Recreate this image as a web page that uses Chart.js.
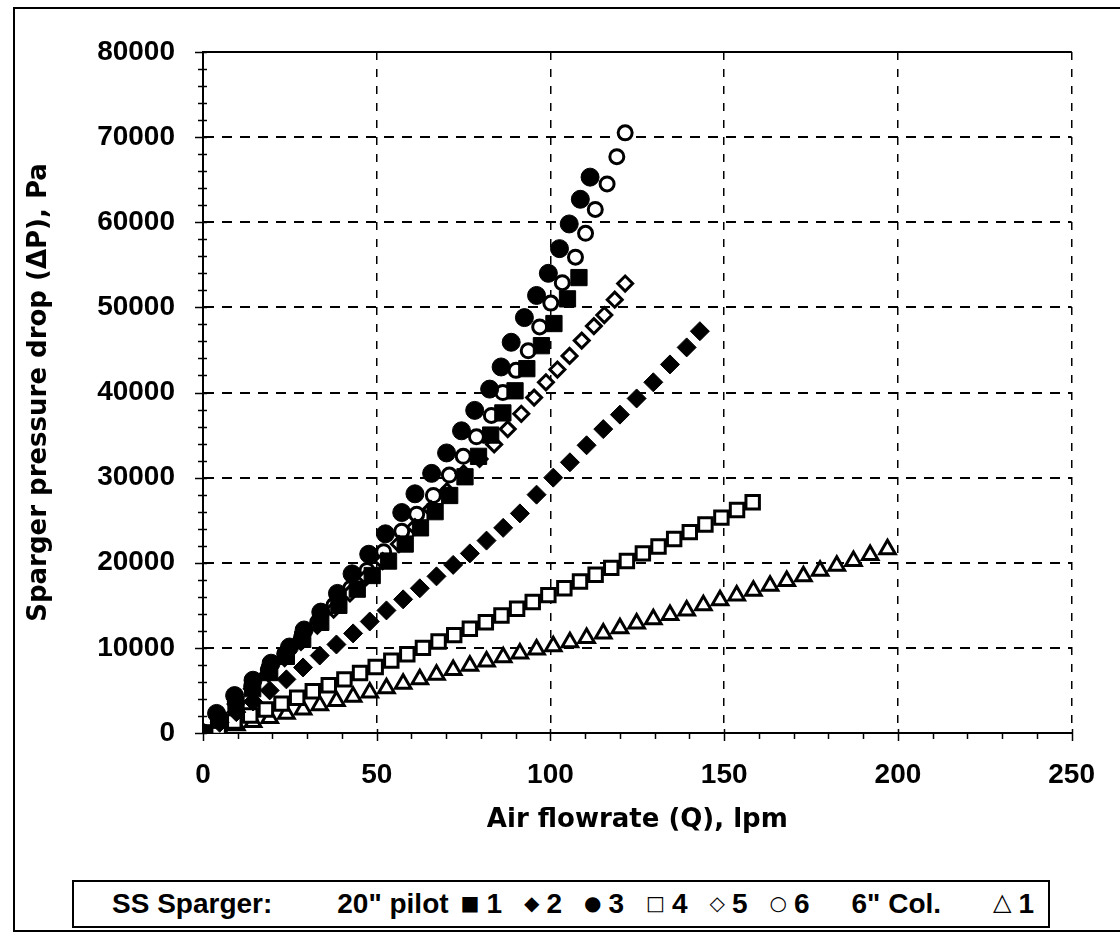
<!DOCTYPE html>
<html>
<head>
<meta charset="utf-8">
<script src="https://cdn.jsdelivr.net/npm/chart.js@4.4.1/dist/chart.umd.min.js"></script>
<style>
    body { margin: 0; background: #fff; }
    #wrap { position: relative; width: 1120px; height: 935px; overflow: hidden; }
    #frame { position: absolute; left: 13px; top: 7px; width: 1120px; height: 921px;
             border-left: 2px solid #000; border-top: 2px solid #000; border-bottom: 2px solid #000; }
    canvas { position: absolute; left: 0; top: 0; }
    #legend { position: absolute; left: 72px; top: 880px; width: 978px; height: 48px; box-sizing: border-box;
              border: 2px solid #000; background: #fff; display: flex; align-items: center;
              font: bold 28px "Liberation Sans", Arial, sans-serif; color: #000; white-space: pre; }
    #legend .sym { font: 20px "DejaVu Sans", sans-serif; position: relative; top: -1px; }
    #legend .tri { font: 24px "DejaVu Sans", sans-serif; position: relative; top: -2px; }
</style>
</head>
<body>
<div id="wrap">
    <div id="frame"></div>
    <canvas id="chart" width="1120" height="935"></canvas>
    <div id="legend"></div>
</div>
<script>
// axis ticks
const xTicks = [0, 50, 100, 150, 200, 250];
const yTicks = [0, 10000, 20000, 30000, 40000, 50000, 60000, 70000, 80000];
const xMinorStep = 10;
const yMinorStep = 2000;

// 20" pilot, sparger 1 (filled square)
const q1 = [0, 4.5, 9.5, 14.3, 19.2, 24, 28.7, 33.9, 39.1, 44.4, 48.7, 53.4, 58.2, 62.6, 66.8, 71, 75.4, 79.3, 82.8, 86.3, 89.8, 93.2, 97.4, 101, 104.9, 108.2];
const p1 = [0, 1500, 3300, 5200, 7100, 9000, 11000, 13000, 15000, 16900, 18500, 20200, 22200, 24100, 26000, 27900, 30100, 32500, 35000, 37600, 40200, 42800, 45500, 48100, 51000, 53500];

// 20" pilot, sparger 2 (filled diamond)
const q2 = [0, 4.8, 9.6, 14.4, 19.2, 24, 28.8, 33.6, 38.4, 43.2, 48, 52.8, 57.6, 62.4, 67.2, 72, 76.8, 81.6, 86.4, 91.2, 96, 100.8, 105.6, 110.4, 115.2, 120, 124.8, 129.6, 134.4, 139.2, 143];
const p2 = [0, 1200, 2450, 3700, 5000, 6300, 7700, 9100, 10400, 11700, 13100, 14400, 15700, 17000, 18400, 19750, 21100, 22600, 24100, 25800, 28000, 30000, 31800, 33800, 35700, 37400, 39300, 41200, 43300, 45300, 47200];

// 20" pilot, sparger 3 (filled circle)
const q3 = [0, 3.9, 9.1, 14.4, 19.6, 24.9, 29.1, 33.9, 38.7, 42.9, 47.7, 52.5, 57.2, 61, 65.8, 70.1, 74.4, 78.2, 82.5, 85.8, 88.7, 92.5, 96, 99.4, 102.6, 105.4, 108.6, 111.4];
const p3 = [0, 2300, 4400, 6200, 8200, 10100, 12100, 14200, 16400, 18700, 21000, 23400, 25900, 28100, 30500, 32900, 35500, 37900, 40400, 43000, 45900, 48800, 51400, 54000, 56900, 59800, 62700, 65300];

// 20" pilot, sparger 4 (open square)
const q4 = [0, 4.5, 9, 13.6, 18.1, 22.6, 27.1, 31.6, 36.2, 40.7, 45.2, 49.7, 54.2, 58.8, 63.3, 67.8, 72.3, 76.8, 81.4, 85.9, 90.4, 94.9, 99.4, 104, 108.5, 113, 117.5, 122, 126.6, 131.1, 135.6, 140.1, 144.6, 149.2, 153.7, 158.2];
const p4 = [0, 650, 1350, 2050, 2750, 3450, 4150, 4900, 5600, 6300, 7050, 7750, 8500, 9250, 10000, 10750, 11500, 12250, 13000, 13800, 14600, 15400, 16200, 17000, 17800, 18600, 19400, 20200, 21100, 21900, 22800, 23600, 24500, 25300, 26200, 27100];

// 20" pilot, sparger 5 (open diamond)
const q5 = [0, 4.7, 9.4, 14.1, 18.8, 23.5, 28.2, 32.9, 37.6, 42.3, 47, 51.7, 56.4, 61, 65.6, 70.2, 75, 79.6, 83.8, 87.7, 91.6, 95.3, 98.7, 102, 105.5, 109, 112.5, 115.5, 118.5, 121.5];
const p5 = [0, 1600, 3400, 5200, 7000, 8800, 10700, 12600, 14500, 16400, 18300, 20200, 22200, 24200, 26300, 28400, 30500, 32200, 33900, 35700, 37500, 39400, 41200, 42700, 44300, 46100, 47800, 49100, 50900, 52800];

// 20" pilot, sparger 6 (open circle)
const q6 = [0, 4.5, 9.3, 14, 18.8, 23.5, 28.3, 33, 37.7, 42.5, 47.2, 52, 57.2, 61.5, 66.3, 70.9, 74.9, 78.7, 83, 86.3, 90.1, 93.6, 96.9, 100.1, 103.4, 107.2, 110.1, 112.9, 116.3, 119.1, 121.5];
const p6 = [0, 1800, 3700, 5500, 7400, 9300, 11200, 13000, 15000, 17000, 19100, 21300, 23700, 25700, 27900, 30300, 32500, 34800, 37300, 40000, 42600, 44900, 47700, 50500, 52900, 55900, 58700, 61500, 64500, 67700, 70500];

// 6" column, sparger 1 (open triangle)
const q7 = [0, 4.8, 9.6, 14.4, 19.2, 24, 28.8, 33.6, 38.4, 43.2, 48, 52.8, 57.6, 62.4, 67.2, 72, 76.8, 81.6, 86.4, 91.2, 96, 100.8, 105.6, 110.4, 115.2, 120, 124.8, 129.6, 134.4, 139.2, 144, 148.8, 153.6, 158.4, 163.2, 168, 172.8, 177.6, 182.4, 187.2, 192, 197];
const p7 = [0, 400, 900, 1300, 1750, 2250, 2750, 3250, 3750, 4250, 4750, 5250, 5800, 6300, 6850, 7400, 7900, 8400, 8900, 9350, 9800, 10200, 10650, 11150, 11700, 12300, 12850, 13350, 13850, 14400, 15000, 15600, 16150, 16700, 17300, 17850, 18400, 19050, 19650, 20200, 20900, 21600];

function pts(qs, ps) {
    return qs.map((q, i) => ({ x: q, y: ps[i] }));
}

const tickFont = { family: '"Liberation Sans", Arial, sans-serif', size: 28, weight: 'bold' };
const titleFont = { family: '"DejaVu Sans", sans-serif', size: 26, weight: 'bold' };

// draws the solid top edge and the small minor ticks along both axes
const frameTicks = {
    id: 'frameTicks',
    afterDraw(chart) {
        const { ctx, chartArea: a, scales: { x, y } } = chart;
        ctx.save();
        ctx.strokeStyle = '#000';
        ctx.lineWidth = 2;
        ctx.beginPath();
        ctx.moveTo(a.left, a.top);
        ctx.lineTo(a.right, a.top);
        ctx.stroke();

        ctx.lineWidth = 1.5;
        ctx.beginPath();
        for (let v = y.min; v <= y.max; v += yMinorStep) {
            const py = Math.round(y.getPixelForValue(v)) + 0.5;
            const major = yTicks.includes(v);
            ctx.moveTo(a.left - (major ? 8 : 5), py);
            ctx.lineTo(a.left + 4, py);
        }
        for (let v = x.min; v <= x.max; v += xMinorStep) {
            const px = Math.round(x.getPixelForValue(v)) + 0.5;
            const major = xTicks.includes(v);
            ctx.moveTo(px, a.bottom - (major ? 4 : 0));
            ctx.lineTo(px, a.bottom + (major ? 8 : 6));
        }
        ctx.stroke();
        ctx.restore();
    }
};

const ctx = document.getElementById('chart').getContext('2d');
const chart = new Chart(ctx, {
    type: 'scatter',
    data: {
        datasets: [
            { label: '1', group: '20" pilot', symbol: '■', data: pts(q1, p1), pointStyle: 'rect', radius: 11.5, borderWidth: 1, backgroundColor: '#000', borderColor: '#000' },
            { label: '2', group: '20" pilot', symbol: '◆', data: pts(q2, p2), pointStyle: 'rectRot', radius: 9.5, borderWidth: 1, backgroundColor: '#000', borderColor: '#000' },
            { label: '3', group: '20" pilot', symbol: '●', data: pts(q3, p3), pointStyle: 'circle', radius: 9, borderWidth: 1, backgroundColor: '#000', borderColor: '#000' },
            { label: '4', group: '20" pilot', symbol: '□', data: pts(q4, p4), pointStyle: 'rect', radius: 9.5, borderWidth: 3, backgroundColor: '#fff', borderColor: '#000' },
            { label: '5', group: '20" pilot', symbol: '◇', data: pts(q5, p5), pointStyle: 'rectRot', radius: 7.5, borderWidth: 3, backgroundColor: '#fff', borderColor: '#000' },
            { label: '6', group: '20" pilot', symbol: '○', data: pts(q6, p6), pointStyle: 'circle', radius: 7, borderWidth: 3, backgroundColor: '#fff', borderColor: '#000' },
            { label: '1', group: '6" Col.', symbol: '△', data: pts(q7, p7), pointStyle: 'triangle', radius: 9, borderWidth: 3, backgroundColor: '#fff', borderColor: '#000' }
        ]
    },
    options: {
        responsive: false,
        animation: false,
        events: [],
        layout: {
            padding: { left: 0, right: 42, top: 52, bottom: 99 }
        },
        plugins: {
            legend: { display: false },
            tooltip: { enabled: false }
        },
        scales: {
            x: {
                type: 'linear',
                min: 0,
                max: 250,
                afterBuildTicks: (s) => { s.ticks = xTicks.map(v => ({ value: v })); },
                afterFit: (s) => { s.height = 103; },
                ticks: {
                    color: '#000',
                    font: tickFont,
                    padding: 25,
                    callback: (v) => String(v)
                },
                grid: {
                    color: '#000',
                    lineWidth: 1.5,
                    drawTicks: false
                },
                border: {
                    display: true,
                    color: '#000',
                    width: 2,
                    dash: [8, 9]
                },
                title: {
                    display: true,
                    text: 'Air flowrate (Q), lpm',
                    color: '#000',
                    font: titleFont,
                    padding: { top: 0, bottom: 0 }
                }
            },
            y: {
                type: 'linear',
                min: 0,
                max: 80000,
                afterBuildTicks: (s) => { s.ticks = yTicks.map(v => ({ value: v })); },
                afterFit: (s) => { s.width = 203; },
                ticks: {
                    color: '#000',
                    font: tickFont,
                    padding: 28,
                    callback: (v) => String(v)
                },
                grid: {
                    color: '#000',
                    lineWidth: 2,
                    drawTicks: false
                },
                border: {
                    display: true,
                    color: '#000',
                    width: 2,
                    dash: [10, 8]
                },
                title: {
                    display: true,
                    text: 'Sparger pressure drop (ΔP), Pa',
                    color: '#000',
                    font: titleFont,
                    padding: { top: 24, bottom: 0 }
                }
            }
        }
    },
    plugins: [frameTicks]
});

// legend built from the datasets
const legend = document.getElementById('legend');
const groupGap = { '20" pilot': [65, 12], '6" Col.': [42, 52] };
let html = '<span style="margin-left:38px">SS Sparger:</span>';
let lastGroup = null;
chart.data.datasets.forEach((ds) => {
    if (ds.group !== lastGroup) {
        const gap = groupGap[ds.group];
        html += '<span style="margin-left:' + gap[0] + 'px;margin-right:' + gap[1] + 'px">' + ds.group + '</span>';
        lastGroup = ds.group;
    } else {
        html += '<span style="margin-left:22px"></span>';
    }
    const cls = ds.pointStyle === 'triangle' ? 'tri' : 'sym';
    html += '<span class="' + cls + '">' + ds.symbol + '</span><span style="margin-left:7px">' + ds.label + '</span>';
});
legend.innerHTML = html;
</script>
</body>
</html>
